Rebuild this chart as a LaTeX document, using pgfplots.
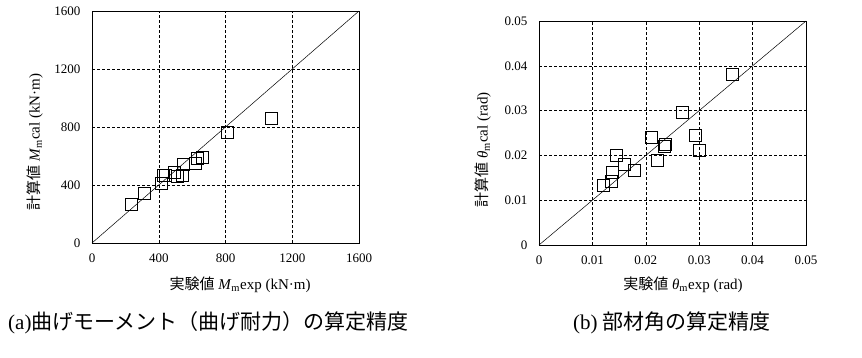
\documentclass[border=0pt]{standalone}
\usepackage{pgfplots}
\pgfplotsset{compat=1.18}
\usepackage{fontspec}
\setmainfont{Liberation Serif}
\newfontfamily\cjk{Noto Sans CJK JP}
\begin{document}
\begin{tikzpicture}
\path[use as bounding box] (0,0) rectangle (862pt,357pt);
\pgfplotsset{
  common/.style={
    anchor=south west, scale only axis, width=267pt,
    axis line style={black, line width=0.8pt},
    grid=major, major grid style={black, densely dashed, line width=0.5pt},
    major tick length=0pt,
    scaled ticks=false,
    tick label style={font=\fontsize{13}{15}\selectfont},
    /pgf/number format/assume math mode=true,
    xticklabel style={yshift=-7pt},
    yticklabel style={xshift=-8pt},
    clip=false,
  },
  sq/.style={only marks, mark=square, mark size=6pt, mark options={black, line width=0.8pt}},
}
% (a)
\begin{axis}[common, at={(92pt,114pt)}, height=232pt,
  xmin=0, xmax=1600, ymin=0, ymax=1600,
  xtick={0,400,800,1200,1600}, ytick={0,400,800,1200,1600},
  xticklabels={0,400,800,1200,1600}, yticklabels={0,400,800,1200,1600}]
\addplot[black, line width=0.5pt] coordinates {(0,0) (1600,1600)};
\addplot[sq] coordinates {
(237,267) (313,339) (413,412) (429,463) (441,463) (493,486) (513,456)
(543,463) (549,541) (620,548) (630,581) (662,592) (810,763) (1077,857)};
\end{axis}
% (b)
\begin{axis}[common, at={(539pt,112pt)}, height=224pt,
  xmin=0, xmax=0.05, ymin=0, ymax=0.05,
  xtick={0,0.01,0.02,0.03,0.04,0.05}, ytick={0,0.01,0.02,0.03,0.04,0.05},
  xticklabels={0,0.01,0.02,0.03,0.04,0.05}, yticklabels={0,0.01,0.02,0.03,0.04,0.05}]
\addplot[black, line width=0.5pt] coordinates {(0,0) (0.05,0.05)};
\addplot[sq] coordinates {
(0.01205,0.0133) (0.01348,0.01412) (0.0138,0.0161) (0.01442,0.0201)
(0.0159,0.0181) (0.0179,0.0166) (0.02097,0.0240) (0.0221,0.0189)
(0.02347,0.0221) (0.02366,0.0225) (0.02684,0.0297) (0.02934,0.0244)
(0.02996,0.0212) (0.0363,0.0380)};
\end{axis}
% axis labels
\node[rotate=90, font=\fontsize{15}{17}\selectfont] at (35pt,215pt)
  {{\cjk 計算値} \textit{M}\textsubscript{m}cal (kN·m)};
\node[rotate=90, font=\fontsize{15}{17}\selectfont] at (483pt,207pt)
  {{\cjk 計算値} \textit{θ}\textsubscript{m}cal (rad)};
\node[font=\fontsize{15}{17}\selectfont] at (240pt,72pt)
  {{\cjk 実験値} \textit{M}\textsubscript{m}exp (kN·m)};
\node[font=\fontsize{15}{17}\selectfont] at (683pt,72pt)
  {{\cjk 実験値} \textit{θ}\textsubscript{m}exp (rad)};
% captions
\node[anchor=west, inner sep=0pt, font=\fontsize{21}{24}\selectfont] at (8pt,34pt)
  {(a){\cjk 曲げモーメント（曲げ耐力）の算定精度}};
\node[anchor=west, inner sep=0pt, font=\fontsize{21}{24}\selectfont] at (573pt,34pt)
  {(b) {\cjk 部材角の算定精度}};
\end{tikzpicture}
\end{document}
